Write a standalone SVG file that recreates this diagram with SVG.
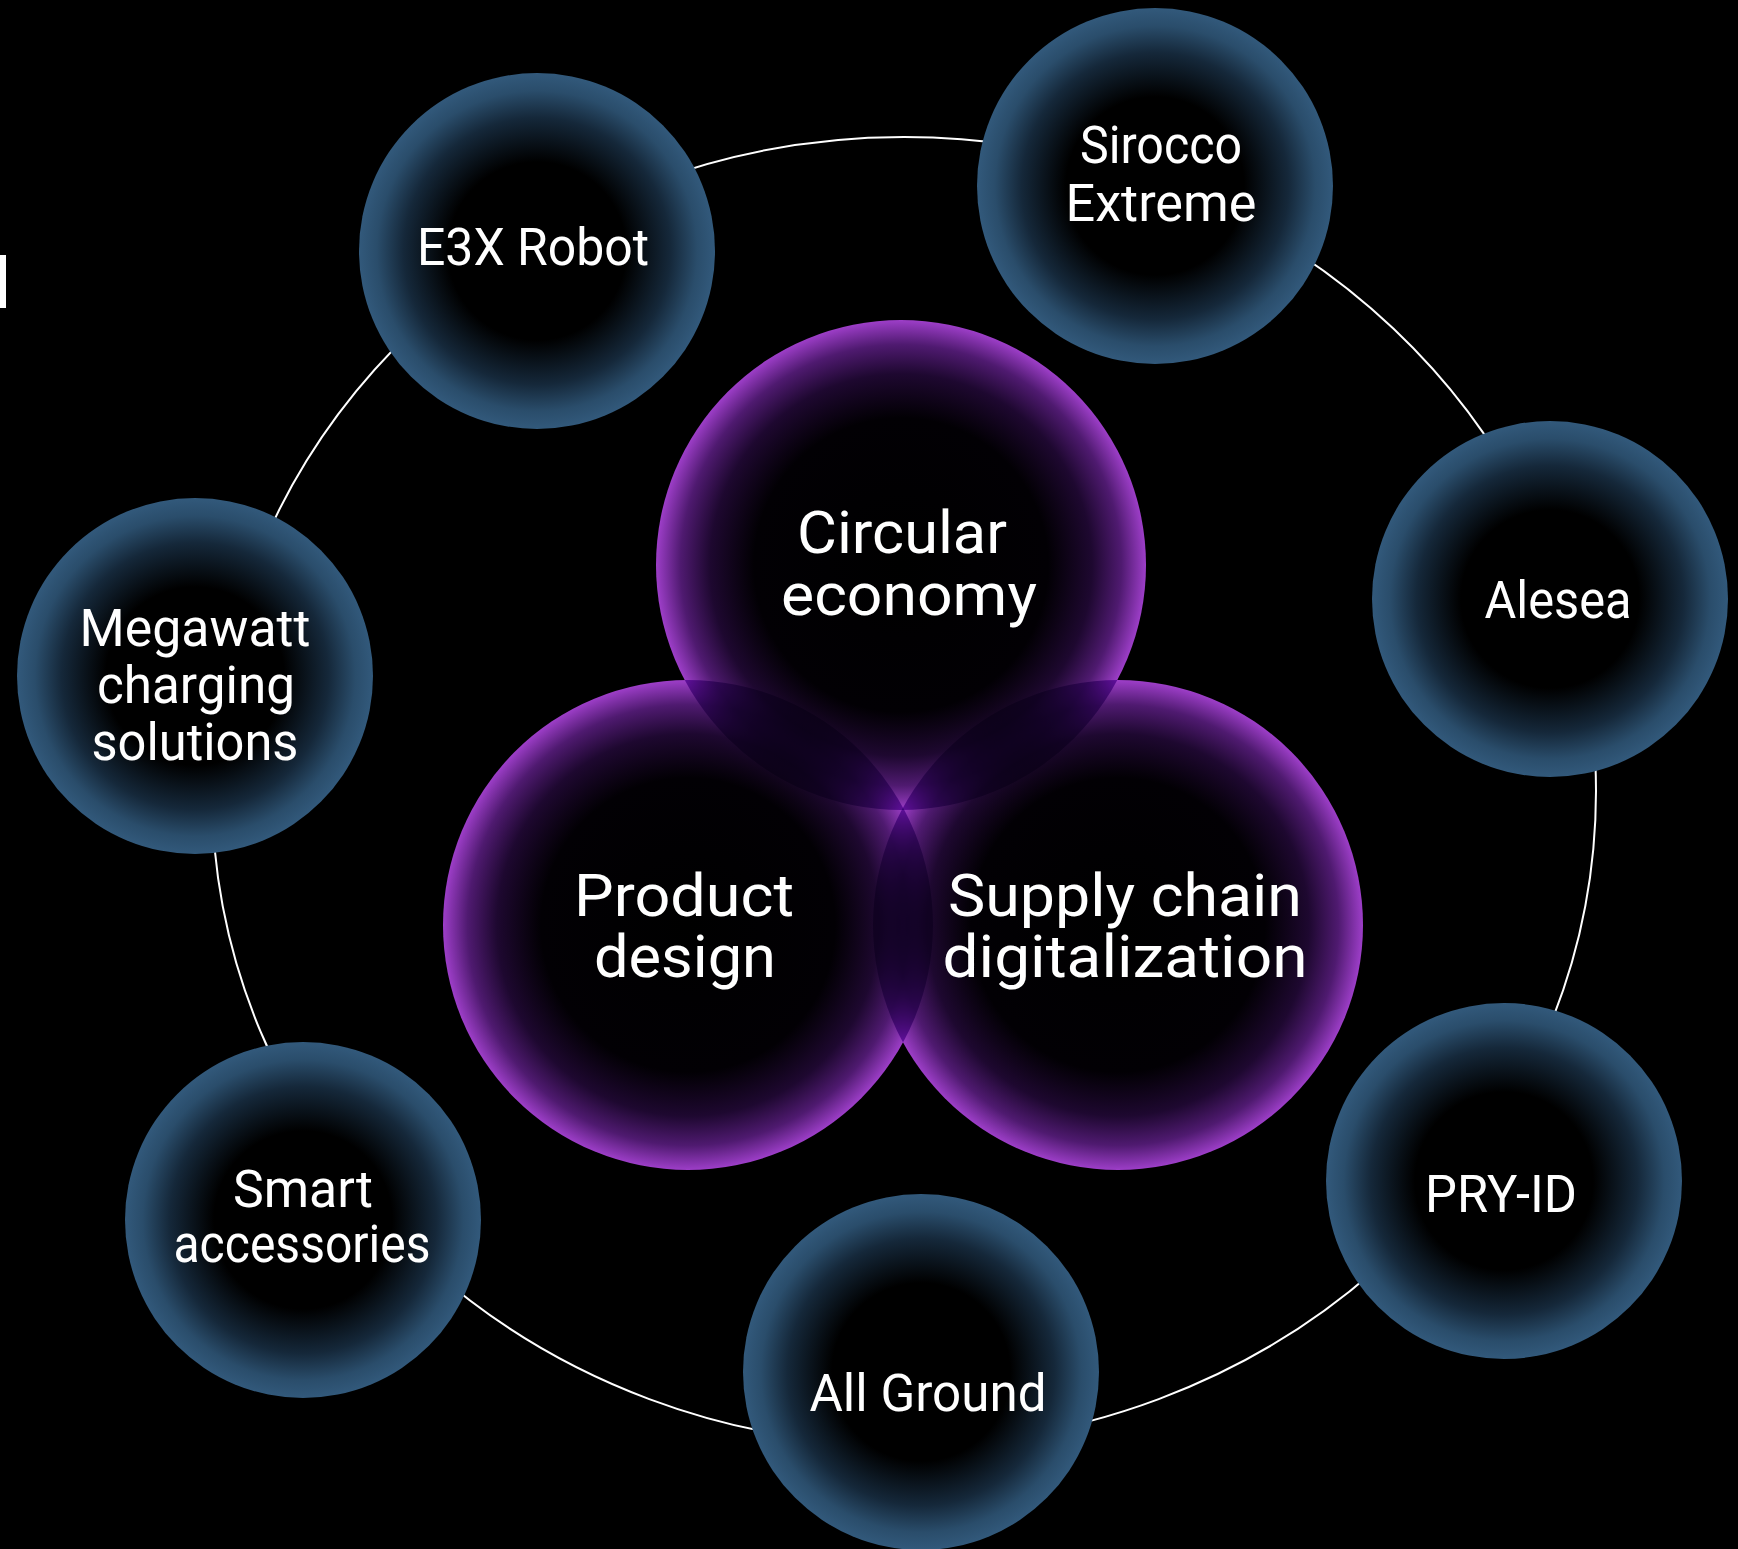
<svg xmlns="http://www.w3.org/2000/svg" width="1738" height="1549" viewBox="0 0 1738 1549">
<defs>
<radialGradient id="gBlue" cx="50%" cy="50%" r="50%">
<stop offset="0" stop-color="#000000"/>
<stop offset="0.5" stop-color="#000000"/>
<stop offset="0.75" stop-color="#15283a"/>
<stop offset="0.9" stop-color="#2a4d6b"/>
<stop offset="1" stop-color="#32597b"/>
</radialGradient>
<radialGradient id="gPurple" cx="50%" cy="50%" r="50%">
<stop offset="0" stop-color="#000000"/>
<stop offset="0.6" stop-color="#020004"/>
<stop offset="0.78" stop-color="#1e0830"/>
<stop offset="0.9" stop-color="#4f1a70"/>
<stop offset="1" stop-color="#9d3ec8"/>
</radialGradient>
</defs>
<style>
.bg{fill:#000}
.ring{fill:none;stroke:#ffffff;stroke-width:2}
.blue{fill:url(#gBlue)}
.purple{fill:url(#gPurple);mix-blend-mode:multiply}
.t{font-family:Roboto,"Noto Sans",sans-serif;fill:#ffffff;text-anchor:middle}
.s{font-size:51px}
.l{font-size:60px}
</style>
<rect class="bg" x="0" y="0" width="1738" height="1549"/>
<rect x="0" y="255" width="6" height="53" fill="#ffffff"/>
<g id="connectors">
<ellipse class="ring" cx="904" cy="791" rx="692" ry="654"/>
</g>
<g id="core" style="isolation:isolate">
<g id="product-design">
<circle class="purple" cx="688" cy="925" r="245"/>
</g>
<g id="supply-chain">
<circle class="purple" cx="1118" cy="925" r="245"/>
</g>
<g id="circular-economy">
<circle class="purple" cx="901" cy="565" r="245"/>
</g>
</g>
<g id="core-labels">
<text class="t l" x="902" y="553" textLength="210" lengthAdjust="spacingAndGlyphs">Circular</text>
<text class="t l" x="909" y="615" textLength="256" lengthAdjust="spacingAndGlyphs">economy</text>
<text class="t l" x="684" y="916" textLength="220" lengthAdjust="spacingAndGlyphs">Product</text>
<text class="t l" x="685" y="977" textLength="182" lengthAdjust="spacingAndGlyphs">design</text>
<text class="t l" x="1125" y="916" textLength="354" lengthAdjust="spacingAndGlyphs">Supply chain</text>
<text class="t l" x="1125" y="977" textLength="365" lengthAdjust="spacingAndGlyphs">digitalization</text>
</g>
<g id="e3x-robot">
<circle class="blue" cx="537" cy="251" r="178"/>
<text class="t s" x="533" y="265" textLength="232" lengthAdjust="spacingAndGlyphs">E3X Robot</text>
</g>
<g id="sirocco-extreme">
<circle class="blue" cx="1155" cy="186" r="178"/>
<text class="t s" x="1161" y="163" textLength="162" lengthAdjust="spacingAndGlyphs">Sirocco</text>
<text class="t s" x="1161" y="221" textLength="191" lengthAdjust="spacingAndGlyphs">Extreme</text>
</g>
<g id="alesea">
<circle class="blue" cx="1550" cy="599" r="178"/>
<text class="t s" x="1558" y="618" textLength="147" lengthAdjust="spacingAndGlyphs">Alesea</text>
</g>
<g id="pry-id">
<circle class="blue" cx="1504" cy="1181" r="178"/>
<text class="t s" x="1501" y="1212" textLength="152" lengthAdjust="spacingAndGlyphs">PRY-ID</text>
</g>
<g id="all-ground">
<circle class="blue" cx="921" cy="1372" r="178"/>
<text class="t s" x="928" y="1411" textLength="237" lengthAdjust="spacingAndGlyphs">All Ground</text>
</g>
<g id="smart-accessories">
<circle class="blue" cx="303" cy="1220" r="178"/>
<text class="t s" x="303" y="1207" textLength="140" lengthAdjust="spacingAndGlyphs">Smart</text>
<text class="t s" x="302" y="1262" textLength="257" lengthAdjust="spacingAndGlyphs">accessories</text>
</g>
<g id="megawatt-charging">
<circle class="blue" cx="195" cy="676" r="178"/>
<text class="t s" x="195" y="646" textLength="231" lengthAdjust="spacingAndGlyphs">Megawatt</text>
<text class="t s" x="196" y="703" textLength="198" lengthAdjust="spacingAndGlyphs">charging</text>
<text class="t s" x="195" y="760" textLength="207" lengthAdjust="spacingAndGlyphs">solutions</text>
</g>
</svg>
